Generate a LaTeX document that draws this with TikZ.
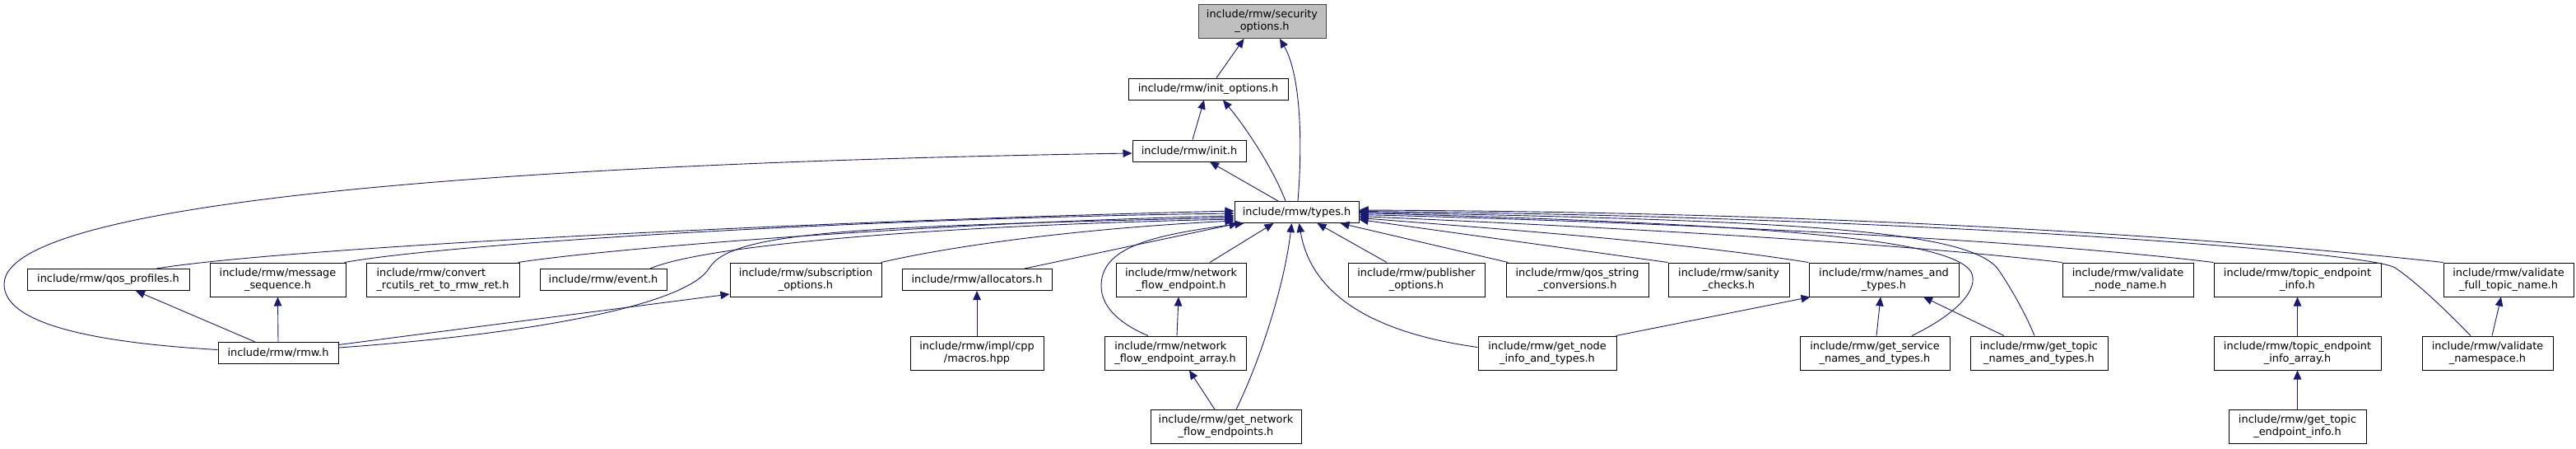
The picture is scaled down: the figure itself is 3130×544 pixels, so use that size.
\documentclass[tikz,border=0pt]{standalone}
\usepackage{fontspec}
\setmainfont{DejaVu Sans}
\usetikzlibrary{arrows.meta}
\definecolor{edgeblue}{HTML}{191970}
\definecolor{mainfill}{HTML}{BFBFBF}
\definecolor{mainline}{HTML}{404040}
\definecolor{boxline}{HTML}{000000}
\begin{document}
\begin{tikzpicture}[x=1pt,y=-1pt,
  box/.style={draw=boxline, line width=1pt, fill=white, inner sep=0pt,
    minimum height=26pt, align=center, font=\fontsize{12.9pt}{15pt}\selectfont},
  dbox/.style={box, minimum height=41pt},
  dep/.style={draw=edgeblue, line width=0.9pt, {Triangle[length=11pt,width=9.5pt]}-}]
\fill[white] (0,0) rectangle (3130,544);
\useasboundingbox (0,0) rectangle (3130,544);
% rows 0-3
\node[dbox, fill=mainfill, draw=mainline, minimum width=155pt] (sec) at (1533.5,26) {include/rmw/security\\\_options.h};
\node[box, minimum width=194pt] (initopt) at (1468,108) {include/rmw/init\_options.h};
\node[box, minimum width=138pt] (init) at (1445,183) {include/rmw/init.h};
\node[box, minimum width=151pt] (types) at (1575.5,257.5) {include/rmw/types.h};
% row 4
\node[box, minimum width=197pt] (qosp) at (131.5,339.5) {include/rmw/qos\_profiles.h};
\node[dbox, minimum width=165pt] (msgseq) at (337.5,339.5) {include/rmw/message\\\_sequence.h};
\node[dbox, minimum width=186pt, align=left] (conv) at (538,339.5) {include/rmw/convert\\\_rcutils\_ret\_to\_rmw\_ret.h};
\node[box, minimum width=154pt] (event) at (733,339.5) {include/rmw/event.h};
\node[dbox, minimum width=184pt] (subopt) at (979,339.5) {include/rmw/subscription\\\_options.h};
\node[box, minimum width=182pt] (alloc) at (1187,339.5) {include/rmw/allocators.h};
\node[dbox, minimum width=158pt] (nfe) at (1435,339.5) {include/rmw/network\\\_flow\_endpoint.h};
\node[dbox, minimum width=166pt] (pubopt) at (1721,339.5) {include/rmw/publisher\\\_options.h};
\node[dbox, minimum width=173pt] (qosstr) at (1916.5,339.5) {include/rmw/qos\_string\\\_conversions.h};
\node[dbox, minimum width=147pt] (sanity) at (2100.5,339.5) {include/rmw/sanity\\\_checks.h};
\node[dbox, minimum width=182pt] (nat) at (2289,339.5) {include/rmw/names\_and\\\_types.h};
\node[dbox, minimum width=159pt] (vnn) at (2585.5,339.5) {include/rmw/validate\\\_node\_name.h};
\node[dbox, minimum width=203pt] (tei) at (2791.5,339.5) {include/rmw/topic\_endpoint\\\_info.h};
\node[dbox, minimum width=158pt] (vftn) at (3048,339.5) {include/rmw/validate\\\_full\_topic\_name.h};
% row 5
\node[box, minimum width=146pt] (rmw) at (338,428.5) {include/rmw/rmw.h};
\node[dbox, minimum width=162pt] (macros) at (1187,428.5) {include/rmw/impl/cpp\\/macros.hpp};
\node[dbox, minimum width=172pt, align=left] (nfea) at (1428,428.5) {include/rmw/network\\\_flow\_endpoint\_array.h};
\node[dbox, minimum width=168pt] (gnit) at (1880,428.5) {include/rmw/get\_node\\\_info\_and\_types.h};
\node[dbox, minimum width=182pt] (gsnt) at (2278,428.5) {include/rmw/get\_service\\\_names\_and\_types.h};
\node[dbox, minimum width=167pt] (gtnt) at (2477.5,428.5) {include/rmw/get\_topic\\\_names\_and\_types.h};
\node[dbox, minimum width=203pt] (teia) at (2791.5,428.5) {include/rmw/topic\_endpoint\\\_info\_array.h};
\node[dbox, minimum width=159pt] (vns) at (3022.5,428.5) {include/rmw/validate\\\_namespace.h};
% row 6
\node[dbox, minimum width=183pt] (gnfe) at (1489.5,518) {include/rmw/get\_network\\\_flow\_endpoints.h};
\node[dbox, minimum width=167pt] (gtei) at (2791.5,518) {include/rmw/get\_topic\\\_endpoint\_info.h};
% upper edges
\draw[dep] ([xshift=-22pt]sec.south) -- ([xshift=10pt]initopt.north);
\draw[dep] ([xshift=21.5pt]sec.south) .. controls (1580,90) and (1583,170) .. ([xshift=1.5pt]types.north);
\draw[dep] ([xshift=-5pt]initopt.south) -- ([xshift=4pt]init.north);
\draw[dep] ([xshift=18pt]initopt.south) .. controls (1510,150) and (1545,200) .. ([xshift=-13.5pt]types.north);
\draw[dep] ([xshift=25pt]init.south) -- ([xshift=-22.5pt]types.north);
\draw[dep] ([yshift=-3pt]init.west) .. controls (800,195) and (5,230) .. (5,345) .. controls (5,390) and (100,415) .. ([yshift=4pt]rmw.west);
% left fan into types
\draw[dep] ([yshift=1.5pt]types.west) .. controls (1000,268) and (350,300) .. ([xshift=58.5pt]qosp.north);
\draw[dep] ([yshift=-1.5pt]types.west) .. controls (1050,265) and (550,295) .. ([xshift=-2pt]msgseq.north east);
\draw[dep] ([yshift=-4.5pt]types.west) .. controls (1150,270) and (750,300) .. ([xshift=-2pt]conv.north east);
\draw[dep] ([yshift=-6.5pt]types.west) .. controls (1050,275) and (890,280) .. (862,325) .. controls (835,370) and (650,405) .. ([yshift=6.5pt]rmw.east);
\draw[dep] ([yshift=-8.5pt]types.west) .. controls (1100,275) and (850,300) .. ([xshift=57pt]event.north);
\draw[dep] ([yshift=-10.5pt]types.west) .. controls (1300,278) and (1150,300) .. ([xshift=-1pt]subopt.north east);
\draw[dep] ([yshift=-17.5pt]subopt.west) -- ([yshift=10pt]rmw.east);
\draw[dep] ([xshift=5pt]types.south west) -- ([xshift=58pt]alloc.north);
\draw[dep] ([xshift=12pt]types.south west) .. controls (1400,285) and (1338,300) .. (1338,347) .. controls (1338,375) and (1365,395) .. ([xshift=-33pt]nfea.north);
\draw[dep] ([xshift=-28pt]types.south) -- ([xshift=35pt]nfe.north);
\draw[dep] ([xshift=-6pt]types.south) .. controls (1560,350) and (1530,440) .. ([xshift=12.5pt]gnfe.north);
\draw[dep] ([xshift=3pt]types.south) .. controls (1590,340) and (1640,400) .. ([yshift=7pt]gnit.west);
\draw[dep] ([xshift=25pt]types.south) -- ([xshift=-36pt]pubopt.north);
\draw[dep] ([xshift=53pt]types.south) -- ([xshift=3pt]qosstr.north west);
\draw[dep] ([yshift=-9pt]types.east) -- (sanity.north west);
% right fan into types
\draw[dep] ([yshift=-7pt]types.east) .. controls (1850,280) and (2050,295) .. (nat.north west);
\draw[dep] ([yshift=-5pt]types.east) .. controls (2000,278) and (2300,295) .. (vnn.north west);
\draw[dep] ([yshift=-3pt]types.east) .. controls (2100,272) and (2500,295) .. (tei.north west);
\draw[dep] ([yshift=-1pt]types.east) .. controls (2150,272) and (2370,290) .. (2395,330) .. controls (2405,350) and (2380,380) .. ([xshift=45pt]gsnt.north);
\draw[dep] (types.east) .. controls (2200,268) and (2400,280) .. (2430,330) .. controls (2450,360) and (2465,390) .. ([xshift=-5.5pt]gtnt.north);
\draw[dep] ([yshift=1pt]types.east) .. controls (2300,262) and (2880,305) .. (2910,325) .. controls (2940,345) and (2980,385) .. ([xshift=-20.5pt]vns.north);
\draw[dep] ([yshift=2.5pt]types.east) .. controls (2350,258) and (2800,300) .. (vftn.north west);
% lower edges
\draw[dep] ([xshift=2pt]nat.south west) -- ([xshift=-1pt]gnit.north east);
\draw[dep] ([xshift=-4pt]nat.south) -- ([xshift=2pt]gsnt.north);
\draw[dep] ([xshift=48pt]nat.south) -- ([xshift=-42.5pt]gtnt.north);
\draw[dep] (tei.south) -- (teia.north);
\draw[dep] (teia.south) -- (gtei.north);
\draw[dep] ([xshift=-9pt]vftn.south) -- ([xshift=5.5pt]vns.north);
\draw[dep] (alloc.south) -- (macros.north);
\draw[dep] ([xshift=-3pt]nfe.south) -- ([xshift=2pt]nfea.north);
\draw[dep] ([xshift=17pt]nfea.south) -- ([xshift=-13.5pt]gnfe.north);
\draw[dep] ([xshift=33.5pt]qosp.south) -- ([xshift=-28pt]rmw.north);
\draw[dep] (msgseq.south) -- (rmw.north);
\end{tikzpicture}
\end{document}
